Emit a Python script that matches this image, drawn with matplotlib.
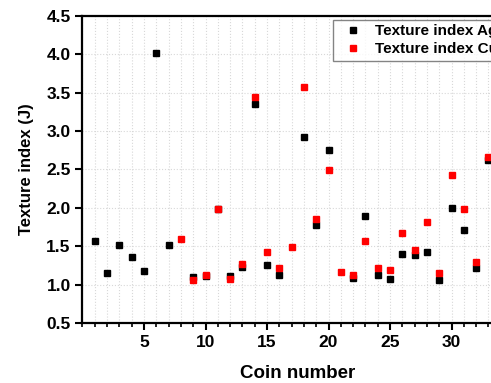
import numpy as np
import matplotlib.pyplot as plt
from matplotlib.ticker import MultipleLocator

nan = np.nan
coins = list(range(1, 34))

ag = [1.57, 1.15, 1.52, 1.36, 1.18, 4.02, 1.51, nan, 1.10, 1.11,
      1.98, 1.11, 1.23, 3.36, 1.26, 1.13, nan, 2.92, 1.77, 2.76,
      nan, 1.08, 1.89, 1.13, 1.07, 1.40, 1.38, 1.43, 1.06, 2.00,
      1.71, 1.22, 2.63]
cu = [nan, nan, nan, nan, nan, nan, nan, 1.59, 1.06, 1.13,
      1.99, 1.07, 1.27, 3.44, 1.42, 1.22, 1.49, 3.57, 1.85, 2.49,
      1.16, 1.12, 1.57, 1.22, 1.19, 1.67, 1.45, 1.81, 1.15, 2.43,
      1.99, 1.29, 2.66]

plt.rcParams['font.family'] = ['Liberation Sans', 'DejaVu Sans']
plt.rcParams['font.weight'] = 'bold'

fig = plt.figure(figsize=(4.91, 3.83), dpi=100)
ax = fig.add_axes([0.168, 0.157, 0.877, 0.801])

ax.plot(coins, ag, 's', color='black', markersize=4.8, label='Texture index Ag')
ax.plot(coins, cu, 's', color='red', markersize=4.8, label='Texture index Cu')

ax.set_xlim(0, 35)
ax.set_ylim(0.5, 4.5)
ax.xaxis.set_minor_locator(MultipleLocator(1))
ax.yaxis.set_major_locator(MultipleLocator(0.5))
ax.set_xticks([5, 10, 15, 20, 25, 30])
ax.yaxis.set_major_formatter(plt.FormatStrFormatter('%.1f'))

ax.grid(True, which='both', axis='x', color='#d8d8d8', linestyle=':', linewidth=0.8)
ax.grid(True, which='major', axis='y', color='#d8d8d8', linestyle=':', linewidth=0.8)
ax.set_axisbelow(True)

for s in ax.spines.values():
    s.set_linewidth(1.6)
ax.tick_params(which='major', direction='out', length=5, width=1.5, labelsize=12.5)
ax.tick_params(which='minor', direction='out', length=3, width=1.2)
ax.tick_params(axis='y', which='minor', left=False)
for lab in ax.get_xticklabels() + ax.get_yticklabels():
    lab.set_fontweight('bold')

ax.set_xlabel('Coin number', fontsize=13.5, fontweight='bold', labelpad=11)
ax.set_ylabel('Texture index (J)', fontsize=12, fontweight='bold', labelpad=9)

# legend sits partly past the right edge, as in the original crop
leg = fig.legend(loc='upper left', bbox_to_anchor=(0.678, 0.948),
                 borderaxespad=0, fontsize=11, frameon=True, fancybox=False,
                 handlelength=2.0, handletextpad=0.45, borderpad=0.3,
                 labelspacing=0.25, markerscale=1.0)
leg.get_frame().set_edgecolor('#666666')
leg.get_frame().set_linewidth(1.0)
for t in leg.get_texts():
    t.set_fontweight('bold')

fig.savefig('out.png', dpi=100)
